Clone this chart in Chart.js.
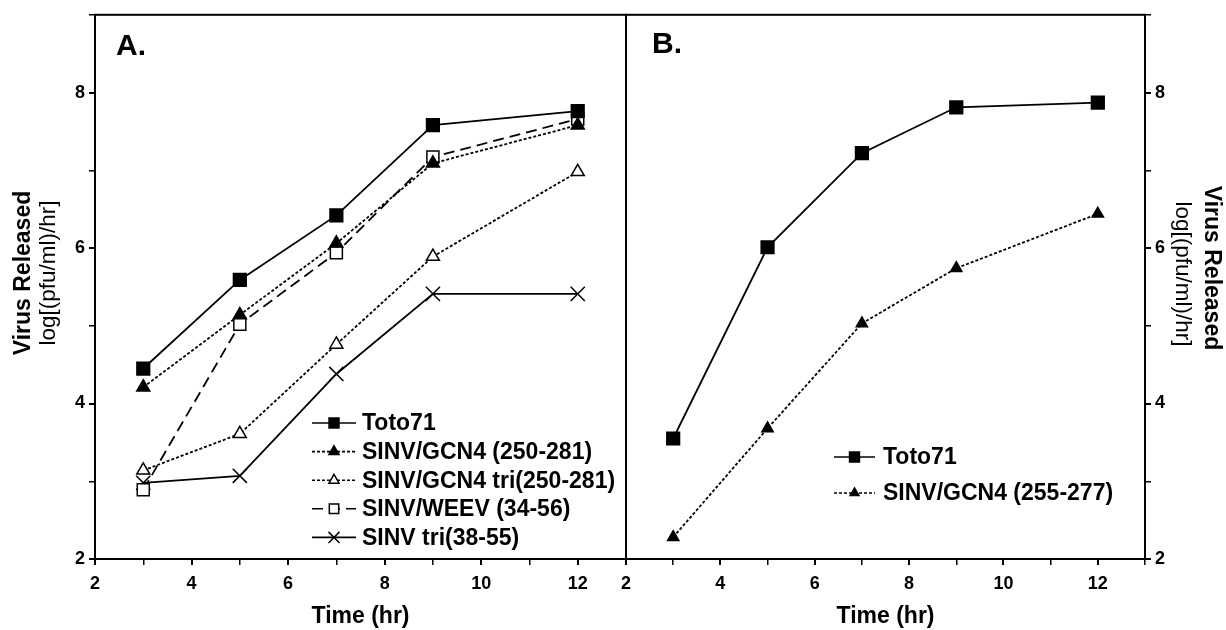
<!DOCTYPE html>
<html>
<head>
<meta charset="utf-8">
<script src="https://cdn.jsdelivr.net/npm/chart.js@4.4.0/dist/chart.umd.min.js"></script>
<style>
  html, body { margin: 0; padding: 0; background: #fff; }
  body { width: 1226px; height: 630px; position: relative; overflow: hidden; font-family: "Liberation Sans", Arial, sans-serif; color: #000; }
  canvas { position: absolute; top: 0; }
  #chartA { left: 0; }
  #chartB { left: 612px; }
  .ytitle { position: absolute; white-space: nowrap; line-height: 1; }
  .bold { font-weight: bold; font-size: 23px; }
  .unit { font-size: 22.5px; }
  .left { transform: translate(-50%, -50%) rotate(-90deg); }
  .right { transform: translate(-50%, -50%) rotate(90deg); }
</style>
</head>
<body>
<canvas id="chartA" width="640" height="630"></canvas>
<canvas id="chartB" width="614" height="630"></canvas>
<div class="ytitle bold left" style="left:22px; top:273px;">Virus Released</div>
<div class="ytitle unit left" style="left:48px; top:273px;">log[(pfu/ml)/hr]</div>
<div class="ytitle bold right" style="left:1212px; top:268px;">Virus Released</div>
<div class="ytitle unit right" style="left:1183px; top:274px;">log[(pfu/ml)/hr]</div>
<script>
// time points (hr)
const hours = [3, 5, 7, 9, 12];

// panel A
const toto71A = [4.45, 5.59, 6.42, 7.58, 7.76];
const gcn4A = [4.21, 5.14, 6.06, 7.09, 7.58];
const gcn4TriA = [3.14, 3.61, 4.76, 5.89, 6.98];
const weevA = [2.89, 5.02, 5.94, 7.17, 7.66];
const sinvTriA = [2.98, 3.07, 4.38, 5.41, 5.41];

// panel B
const toto71B = [3.55, 6.01, 7.22, 7.81, 7.87];
const gcn4B = [2.28, 3.68, 5.03, 5.74, 6.44];

const xTickLabels = [2, 4, 6, 8, 10, 12];
const yTickLabels = [2, 4, 6, 8];

const FONT = '"Liberation Sans", Arial, sans-serif';

function pts(ys) {
    return hours.map((h, i) => ({ x: h, y: ys[i] }));
}

function series(label, ys, opts) {
    return Object.assign({
        label: label,
        data: pts(ys),
        borderColor: '#000',
        borderWidth: 1.8,
        pointBorderColor: '#000',
        pointBackgroundColor: '#000',
        pointBorderWidth: 1.5,
        tension: 0,
        fill: false
    }, opts);
}

// box around the plot area
const framePlugin = {
    id: 'frame',
    afterDraw(chart) {
        const a = chart.chartArea, ctx = chart.ctx;
        ctx.save();
        ctx.strokeStyle = '#000';
        ctx.lineWidth = 2;
        ctx.strokeRect(a.left, a.top, a.right - a.left, a.bottom - a.top);
        ctx.restore();
    }
};

// panel letter + line/marker legend drawn inside the plot
const innerLegend = {
    id: 'innerLegend',
    afterDraw(chart, args, o) {
        const ctx = chart.ctx;
        ctx.save();
        ctx.font = 'bold 30px ' + FONT;
        ctx.fillStyle = '#000';
        ctx.textBaseline = 'alphabetic';
        ctx.fillText(o.letter, o.letterX, o.letterY);

        ctx.font = 'bold 23px ' + FONT;
        ctx.textBaseline = 'middle';
        chart.data.datasets.forEach((ds, i) => {
            const y = o.y + i * o.step;
            ctx.strokeStyle = '#000';
            ctx.lineWidth = 1.6;
            ctx.setLineDash(ds.borderDash || []);
            ctx.beginPath();
            ctx.moveTo(o.x1, y);
            ctx.lineTo(o.x2, y);
            ctx.stroke();
            ctx.setLineDash([]);
            ctx.fillStyle = ds.pointBackgroundColor;
            ctx.strokeStyle = '#000';
            ctx.lineWidth = 1.5;
            Chart.helpers.drawPoint(ctx, {
                pointStyle: ds.pointStyle,
                radius: ds.pointRadius * 0.78,
                borderWidth: 1.5,
                rotation: 0
            }, (o.x1 + o.x2) / 2, y);
            ctx.fillStyle = '#000';
            ctx.fillText(ds.label, o.textX, y + 1);
        });
        ctx.restore();
    }
};

function axes(yPos, yWidth) {
    return {
        x: {
            type: 'linear',
            min: 2,
            max: 13,
            border: { display: true, color: '#000', width: 2 },
            grid: { drawOnChartArea: false, drawTicks: true, tickLength: 6, color: '#000',
                    lineWidth: c => (xTickLabels.includes(c.tick.value) ? 2 : 1.5) },
            ticks: {
                stepSize: 1,
                autoSkip: false,
                maxRotation: 0,
                color: '#000',
                padding: 8,
                font: { family: FONT, size: 18, weight: 'bold' },
                callback: v => (xTickLabels.includes(v) ? v : '')
            },
            title: {
                display: true,
                text: 'Time (hr)',
                color: '#000',
                font: { family: FONT, size: 23, weight: 'bold' },
                padding: { top: 0, bottom: 0 }
            },
            afterFit: s => { s.height = 71; }
        },
        y: {
            type: 'linear',
            position: yPos,
            min: 2,
            max: 9,
            border: { display: true, color: '#000', width: 2 },
            grid: { drawOnChartArea: false, drawTicks: true, tickLength: 6, color: '#000',
                    lineWidth: c => (yTickLabels.includes(c.tick.value) ? 2 : 1.5) },
            ticks: {
                stepSize: 1,
                autoSkip: false,
                color: '#000',
                padding: 4,
                font: { family: FONT, size: 18, weight: 'bold' },
                callback: v => (yTickLabels.includes(v) ? v : '')
            },
            afterFit: s => { s.width = yWidth; }
        }
    };
}

const baseOptions = {
    responsive: false,
    animation: false,
    devicePixelRatio: 1,
    plugins: { legend: { display: false }, tooltip: { enabled: false } }
};

new Chart(document.getElementById('chartA').getContext('2d'), {
    type: 'line',
    data: {
        datasets: [
            series('Toto71', toto71A, { pointStyle: 'rect', pointRadius: 9 }),
            series('SINV/GCN4 (250-281)', gcn4A, { pointStyle: 'triangle', pointRadius: 7.5, borderDash: [3, 2] }),
            series('SINV/GCN4 tri(250-281)', gcn4TriA, { pointStyle: 'triangle', pointRadius: 7.5, borderDash: [3, 2], pointBackgroundColor: '#fff' }),
            series('SINV/WEEV (34-56)', weevA, { pointStyle: 'rect', pointRadius: 8.5, borderDash: [11, 6], pointBackgroundColor: '#fff' }),
            series('SINV tri(38-55)', sinvTriA, { pointStyle: 'crossRot', pointRadius: 10 })
        ]
    },
    options: Object.assign({}, baseOptions, {
        layout: { padding: { top: 11, right: 14, left: 0, bottom: 0 } },
        scales: axes('left', 95),
        plugins: Object.assign({}, baseOptions.plugins, {
            innerLegend: { letter: 'A.', letterX: 116, letterY: 55, x1: 312, x2: 356, textX: 362, y: 423, step: 28.6 }
        })
    }),
    plugins: [framePlugin, innerLegend]
});

new Chart(document.getElementById('chartB').getContext('2d'), {
    type: 'line',
    data: {
        datasets: [
            series('Toto71', toto71B, { pointStyle: 'rect', pointRadius: 9 }),
            series('SINV/GCN4 (255-277)', gcn4B, { pointStyle: 'triangle', pointRadius: 6.5, borderDash: [3, 2] })
        ]
    },
    options: Object.assign({}, baseOptions, {
        layout: { padding: { top: 13, right: 0, left: 14, bottom: 0 } },
        scales: axes('right', 81),
        plugins: Object.assign({}, baseOptions.plugins, {
            innerLegend: { letter: 'B.', letterX: 40, letterY: 53, x1: 222, x2: 263, textX: 271, y: 457, step: 36 }
        })
    }),
    plugins: [framePlugin, innerLegend]
});
</script>
</body>
</html>
